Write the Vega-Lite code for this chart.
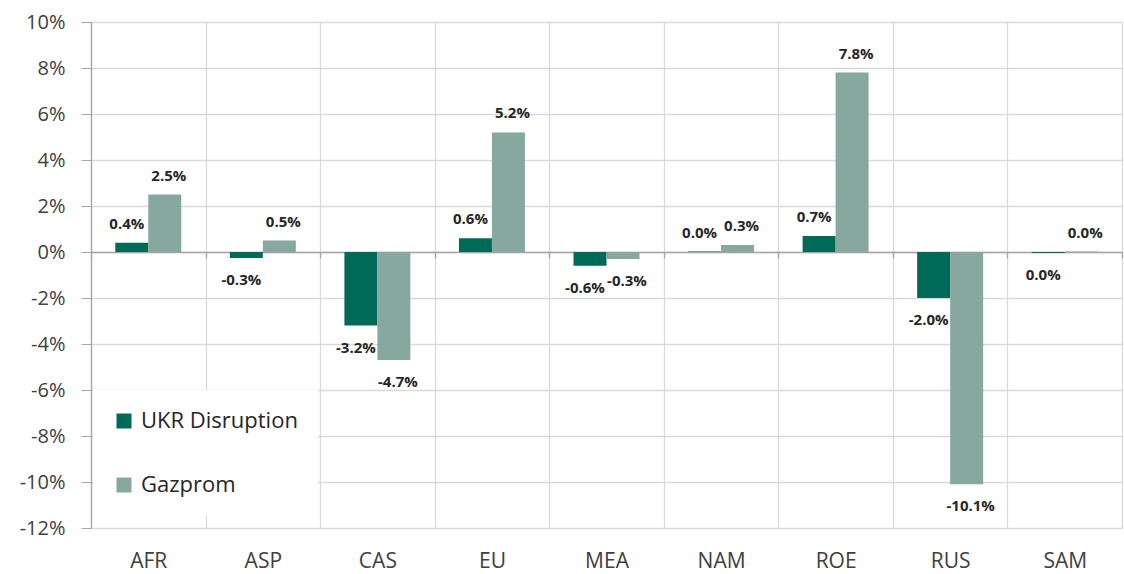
{
  "$schema": "https://vega.github.io/schema/vega-lite/v6.json",
  "width": 1031,
  "height": 506,
  "autosize": "none",
  "padding": {"left": 91, "top": 22, "right": 2, "bottom": 46},
  "background": "white",
  "config": {
    "view": {"stroke": null},
    "locale": {"number": {"decimal": ".", "thousands": ",", "grouping": [3], "currency": ["$", ""], "minus": "-"}},
    "font": "Open Sans"
  },
  "data": {
    "values": [
      {"region": "AFR", "series": "UKR Disruption", "value": 0.004},
      {"region": "ASP", "series": "UKR Disruption", "value": -0.0026},
      {"region": "CAS", "series": "UKR Disruption", "value": -0.032},
      {"region": "EU", "series": "UKR Disruption", "value": 0.006},
      {"region": "MEA", "series": "UKR Disruption", "value": -0.006},
      {"region": "NAM", "series": "UKR Disruption", "value": 0.0002},
      {"region": "ROE", "series": "UKR Disruption", "value": 0.007},
      {"region": "RUS", "series": "UKR Disruption", "value": -0.020},
      {"region": "SAM", "series": "UKR Disruption", "value": -0.0004},
      {"region": "AFR", "series": "Gazprom", "value": 0.025},
      {"region": "ASP", "series": "Gazprom", "value": 0.005},
      {"region": "CAS", "series": "Gazprom", "value": -0.047},
      {"region": "EU", "series": "Gazprom", "value": 0.052},
      {"region": "MEA", "series": "Gazprom", "value": -0.003},
      {"region": "NAM", "series": "Gazprom", "value": 0.003},
      {"region": "ROE", "series": "Gazprom", "value": 0.078},
      {"region": "RUS", "series": "Gazprom", "value": -0.101},
      {"region": "SAM", "series": "Gazprom", "value": 0.0002}
    ]
  },
  "resolve": {"axis": {"x": "independent"}},
  "layer": [
    {
      "mark": {"type": "bar"},
      "encoding": {
        "x": {
          "field": "region", "type": "nominal", "sort": null,
          "scale": {"paddingInner": 0, "paddingOuter": 0},
          "axis": {
            "title": null, "labelAngle": 0, "labelFontSize": 21, "labelColor": "#404040",
            "labelPadding": 22, "domain": false, "ticks": false, "grid": true,
            "gridColor": "#d9d9d9", "gridWidth": 1.3, "tickBand": "extent"
          }
        },
        "xOffset": {
          "field": "series", "type": "nominal", "sort": ["UKR Disruption", "Gazprom"],
          "scale": {"paddingInner": 0, "paddingOuter": 0.736}
        },
        "y": {
          "field": "value", "type": "quantitative",
          "scale": {"domain": [-0.12, 0.10], "nice": false, "zero": false},
          "axis": {
            "title": null, "format": ".0%", "values": [-0.12, -0.1, -0.08, -0.06, -0.04, -0.02, 0, 0.02, 0.04, 0.06, 0.08, 0.1],
            "labelFontSize": 20, "labelColor": "#404040", "labelPadding": 16,
            "tickSize": 10, "tickColor": "#a6a6a6", "domainColor": "#a6a6a6", "domainWidth": 1.3,
            "grid": true, "gridColor": "#d9d9d9", "gridWidth": 1.3
          }
        },
        "color": {
          "field": "series", "type": "nominal", "sort": ["UKR Disruption", "Gazprom"],
          "scale": {"domain": ["UKR Disruption", "Gazprom"], "range": ["#006A59", "#86A89E"]},
          "legend": {
            "title": null, "orient": "none", "legendX": 2, "legendY": 368,
            "fillColor": "white", "padding": 20, "rowPadding": 42,
            "symbolType": "square", "symbolSize": 225, "symbolStrokeWidth": 0,
            "labelFontSize": 22, "labelColor": "#262626", "labelOffset": 6, "labelFont": "Open Sans"
          }
        }
      }
    },
    {
      "transform": [{"filter": "datum.value >= 0 && datum.series == 'UKR Disruption'"}],
      "mark": {"type": "text", "baseline": "alphabetic", "dy": -14, "dx": -5, "fontWeight": "bold", "fontSize": 15, "color": "#262626"},
      "encoding": {
        "x": {
          "field": "region", "type": "nominal", "sort": null,
          "axis": {
            "title": null, "orient": "bottom", "offset": -276, "labels": false, "grid": false,
            "domain": true, "domainColor": "#a6a6a6", "domainWidth": 1.3,
            "ticks": true, "tickSize": 6, "tickColor": "#a6a6a6", "tickWidth": 1.3, "tickBand": "extent"
          }
        },
        "xOffset": {"field": "series", "type": "nominal", "sort": ["UKR Disruption", "Gazprom"]},
        "y": {"field": "value", "type": "quantitative"},
        "text": {"field": "value", "type": "quantitative", "format": ".1%"}
      }
    },
    {
      "transform": [{"filter": "datum.value >= 0 && datum.series == 'Gazprom'"}],
      "mark": {"type": "text", "baseline": "alphabetic", "dy": -14, "dx": 4, "fontWeight": "bold", "fontSize": 15, "color": "#262626"},
      "encoding": {
        "x": {"field": "region", "type": "nominal", "sort": null, "axis": null},
        "xOffset": {"field": "series", "type": "nominal", "sort": ["UKR Disruption", "Gazprom"]},
        "y": {"field": "value", "type": "quantitative"},
        "text": {"field": "value", "type": "quantitative", "format": ".1%"}
      }
    },
    {
      "transform": [{"filter": "datum.value < 0 && datum.series == 'UKR Disruption'"}],
      "mark": {"type": "text", "baseline": "top", "dy": 15, "dx": -5, "fontWeight": "bold", "fontSize": 15, "color": "#262626"},
      "encoding": {
        "x": {"field": "region", "type": "nominal", "sort": null, "axis": null},
        "xOffset": {"field": "series", "type": "nominal", "sort": ["UKR Disruption", "Gazprom"]},
        "y": {"field": "value", "type": "quantitative"},
        "text": {"field": "value", "type": "quantitative", "format": ".1%"}
      }
    },
    {
      "transform": [{"filter": "datum.value < 0 && datum.series == 'Gazprom'"}],
      "mark": {"type": "text", "baseline": "top", "dy": 15, "dx": 4, "fontWeight": "bold", "fontSize": 15, "color": "#262626"},
      "encoding": {
        "x": {"field": "region", "type": "nominal", "sort": null, "axis": null},
        "xOffset": {"field": "series", "type": "nominal", "sort": ["UKR Disruption", "Gazprom"]},
        "y": {"field": "value", "type": "quantitative"},
        "text": {"field": "value", "type": "quantitative", "format": ".1%"}
      }
    }
  ]
}
